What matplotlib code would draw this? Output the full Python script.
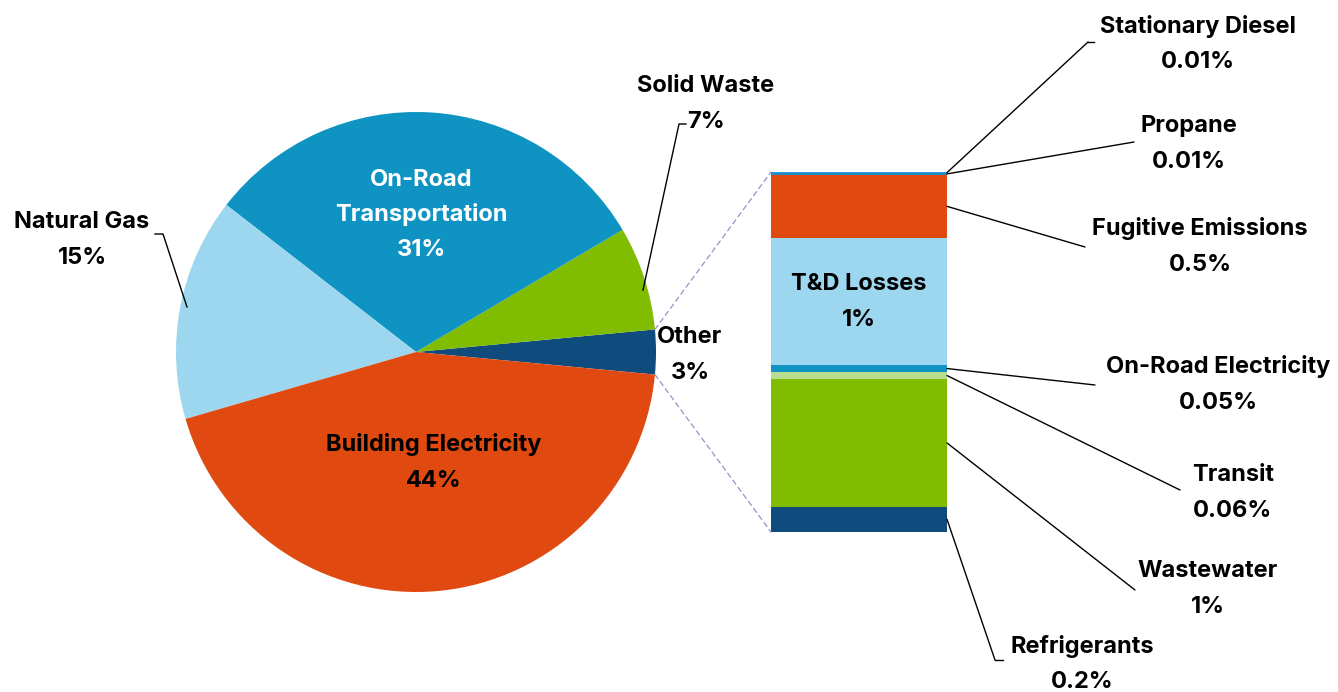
import numpy as np
import matplotlib
matplotlib.use("Agg")
import matplotlib.pyplot as plt
from matplotlib.patches import ConnectionPatch

plt.rcParams["font.family"] = ["Inter", "DejaVu Sans"]
plt.rcParams["font.weight"] = "bold"

# Main pie: sectors listed counter-clockwise starting at the "Other" wedge
pie_labels = ["Other", "Solid Waste", "On-Road Transportation", "Natural Gas", "Building Electricity"]
pie_values = [3, 7, 31, 15, 44]
pie_colors = ["#0f4c7d", "#80bc00", "#0f93c2", "#9dd7ef", "#e04a10"]

# Breakdown of "Other", top to bottom
bar_labels = ["Stationary Diesel", "Propane", "Fugitive Emissions", "T&D Losses",
              "On-Road Electricity", "Transit", "Wastewater", "Refrigerants"]
bar_values = [0.01, 0.01, 0.5, 1, 0.05, 0.06, 1, 0.2]
bar_texts = ["0.01%", "0.01%", "0.5%", "1%", "0.05%", "0.06%", "1%", "0.2%"]
bar_colors = ["#2c9fd2", "#1f8ec4", "#e04a10", "#9dd7ef",
              "#0f93c2", "#b9dd8f", "#80bc00", "#0f4c7d"]

W, H = 1338, 692
fig = plt.figure(figsize=(W / 100, H / 100), dpi=100)
ax = fig.add_axes([0, 0, 1, 1])


def up(y):
    # y measured from the top edge
    return H - y


cx, cy, r = 416, up(352), 240
start = -5.4
ax.pie(pie_values, colors=pie_colors, startangle=start, counterclock=True,
       center=(cx, cy), radius=r, wedgeprops=dict(linewidth=0))
ax.set_xlim(0, W)
ax.set_ylim(0, H)
ax.set_aspect("equal")
ax.set_axis_off()

fs = 17


def two_line(x, y, a, b, color="black", gap=36):
    ax.text(x, up(y), a, ha="center", va="center", fontsize=fs, color=color, fontweight="bold")
    ax.text(x, up(y + gap), b, ha="center", va="center", fontsize=fs, color=color, fontweight="bold")


# labels inside the pie
ax.text(421, up(180), "On-Road", ha="center", va="center", fontsize=fs, color="white", fontweight="bold")
two_line(421, 214, "Transportation", f"{pie_values[2]}%", color="white")
two_line(434, 445, "Building Electricity", f"{pie_values[4]}%")

# labels outside the pie
two_line(82, 222, "Natural Gas", f"{pie_values[3]}%")
ax.plot([155, 163, 187], [up(234), up(234), up(307)], color="black", lw=1)
two_line(706, 86, "Solid Waste", f"{pie_values[1]}%")
ax.plot([686, 679, 643], [up(124), up(124), up(290)], color="black", lw=1)
two_line(690, 337, "Other", f"{pie_values[0]}%")

# stacked bar for the "Other" breakdown
bx0, bx1, by0, by1 = 771, 947, 172, 532
axb = fig.add_axes([bx0 / W, (H - by1) / H, (bx1 - bx0) / W, (by1 - by0) / H])
total = sum(bar_values)
bottoms = np.concatenate([[0], np.cumsum(bar_values)[:-1]])
axb.bar(0, bar_values, bottom=bottoms, width=1, color=bar_colors, linewidth=0)
axb.set_xlim(-0.5, 0.5)
axb.set_ylim(total, 0)
axb.set_axis_off()

mid = bottoms + np.array(bar_values) / 2
i_td = bar_labels.index("T&D Losses")
d = 18 / (by1 - by0) * total
axb.text(0, mid[i_td] - d, "T&D Losses", ha="center", va="center", fontsize=fs, fontweight="bold")
axb.text(0, mid[i_td] + d, bar_texts[i_td], ha="center", va="center", fontsize=fs, fontweight="bold")

# dashed connectors from the "Other" wedge to the bar
for ang, yb in [(start + pie_values[0] * 3.6, 0), (start, total)]:
    th = np.deg2rad(ang)
    p = (cx + r * np.cos(th), cy + r * np.sin(th))
    con = ConnectionPatch(xyA=p, coordsA=ax.transData, xyB=(-0.5, yb), coordsB=axb.transData,
                          color="#9a8fc8", lw=0.9, ls=(0, (4, 3)))
    fig.add_artist(con)

# leader lines: end point of the line, optional tick end, label centre
leaders = [
    ((1088, 42), (1094, 42), (1198, 26)),
    ((1134, 142), None, (1189, 126)),
    ((1085, 247), None, (1200, 229)),
    ((1095, 385), None, (1218, 367)),
    ((1180, 490), None, (1233, 475)),
    ((1135, 590), None, (1208, 571)),
    ((995, 660), (1003, 660), (1082, 646)),
]
idx = [0, 1, 2, 4, 5, 6, 7]
for k, (end, tick, txt) in zip(idx, leaders):
    con = ConnectionPatch(xyA=(0.5, mid[k]), coordsA=axb.transData,
                          xyB=(end[0], up(end[1])), coordsB=ax.transData,
                          color="black", lw=1)
    fig.add_artist(con)
    if tick:
        ax.plot([end[0], tick[0]], [up(end[1]), up(tick[1])], color="black", lw=1)
    two_line(txt[0], txt[1], bar_labels[k], bar_texts[k])

fig.savefig("out.png", dpi=100, facecolor="white")
